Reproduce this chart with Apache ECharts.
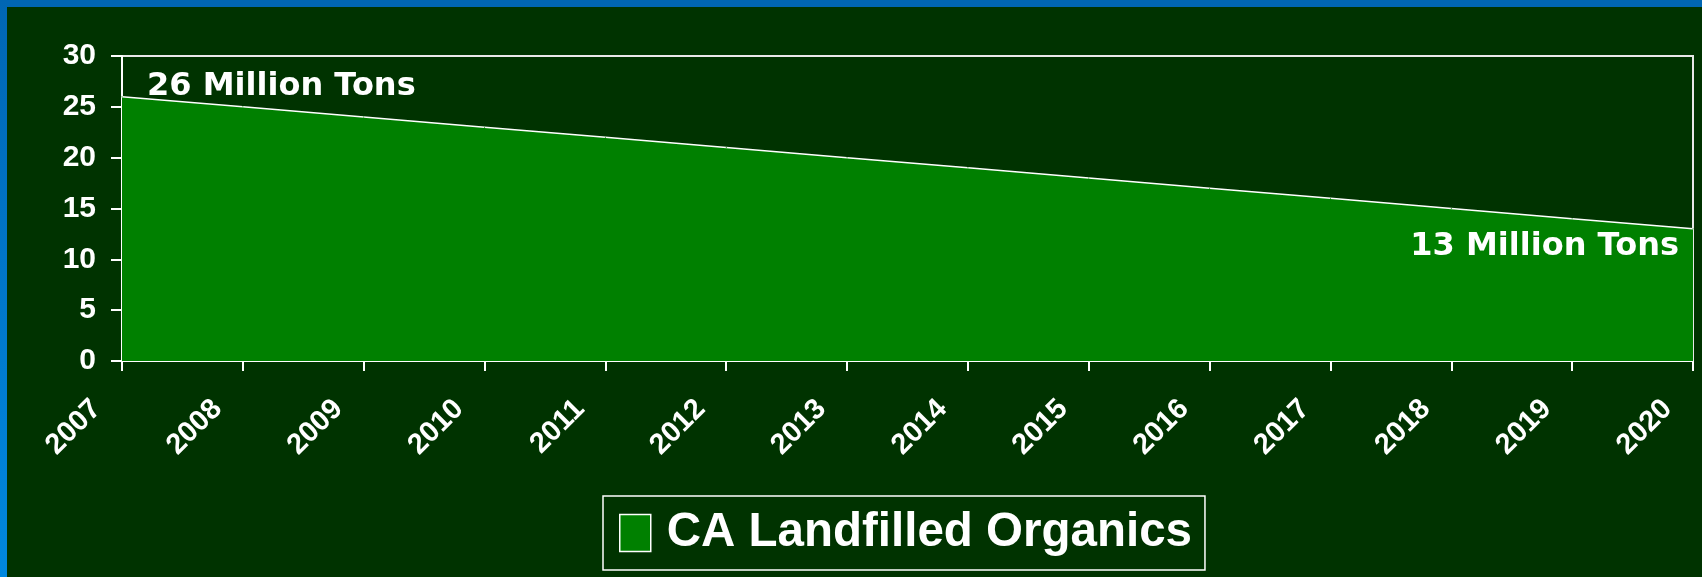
<!DOCTYPE html>
<html>
<head>
<meta charset="utf-8">
<script src="https://cdn.jsdelivr.net/npm/echarts@6/dist/echarts.min.js"></script>
<style>
  html, body { margin: 0; padding: 0; background: #003300; }
  #chart { position: absolute; left: 0; top: 0; width: 1702px; height: 577px; }
  #bandTop { position: absolute; left: 0; top: 0; width: 1702px; height: 7px; background: #0066b3; z-index: 5; }
  #bandLeft { position: absolute; left: 0; top: 0; width: 7px; height: 577px; z-index: 5;
    background: linear-gradient(#0066b3, #0088e0); }
</style>
</head>
<body>
<div id="chart"></div>
<div id="bandTop"></div>
<div id="bandLeft"></div>
<script>
// years on the x axis
var years = ['2007','2008','2009','2010','2011','2012','2013','2014','2015','2016','2017','2018','2019','2020'];
// million tons landfilled
var tons = [26, 25, 24, 23, 22, 21, 20, 19, 18, 17, 16, 15, 14, 13];
var seriesName = 'CA Landfilled Organics';
var startNote = '26 Million Tons';
var endNote = '13 Million Tons';

var chart = echarts.init(document.getElementById('chart'));

var noteFont = {
  color: '#fff',
  fontFamily: 'DejaVu Sans',
  fontWeight: 'bold',
  fontSize: 32
};

var seriesData = tons.map(function (v, i) {
  var item = { value: v };
  if (i === 0) {
    item.label = Object.assign({
      show: true, formatter: startNote,
      position: 'top', distance: 0, align: 'left', verticalAlign: 'bottom',
      offset: [25, 7]
    }, noteFont);
  }
  if (i === tons.length - 1) {
    item.label = Object.assign({
      show: true, formatter: endNote,
      position: 'bottom', distance: 0, align: 'right', verticalAlign: 'top',
      offset: [-14, 1]
    }, noteFont);
  }
  return item;
});

var option = {
  backgroundColor: 'transparent',
  animation: false,
  grid: {
    left: 122, top: 56, right: 9, bottom: 216,
    show: true, borderColor: '#e8e8e8', borderWidth: 2,
    backgroundColor: 'transparent'
  },
  legend: {
    data: [seriesName],
    left: 603, top: 496,
    padding: [13, 13, 13, 16],
    borderColor: '#fff', borderWidth: 1.5,
    icon: 'rect',
    itemWidth: 31, itemHeight: 37,
    itemStyle: { borderColor: '#fff', borderWidth: 1.5 },
    textStyle: {
      color: '#fff', fontFamily: 'Liberation Sans', fontWeight: 'bold', fontSize: 47.5,
      padding: [0, 0, 0, 11]
    }
  },
  xAxis: {
    type: 'category',
    data: years,
    boundaryGap: false,
    axisLine: { lineStyle: { color: '#fff', width: 2 } },
    axisTick: { show: true, length: 10, lineStyle: { color: '#fff', width: 2 } },
    axisLabel: {
      interval: 0, rotate: 45, margin: 18,
      padding: [0, 36, 0, 0],
      color: '#fff', fontFamily: 'Liberation Sans', fontWeight: 'bold', fontSize: 29
    },
    splitLine: { show: false }
  },
  yAxis: {
    type: 'value',
    min: 0, max: 30, interval: 5,
    axisLine: { show: true, lineStyle: { color: '#fff', width: 2 } },
    axisTick: { show: true, length: 11, lineStyle: { color: '#fff', width: 2 } },
    axisLabel: {
      margin: 26,
      color: '#fff', fontFamily: 'Liberation Sans', fontWeight: 'bold', fontSize: 30
    },
    splitLine: { show: false }
  },
  series: [{
    name: seriesName,
    type: 'line',
    data: seriesData,
    symbol: 'circle',
    symbolSize: 1,
    itemStyle: { color: '#008000' },
    lineStyle: { color: '#fff', width: 1.5 },
    areaStyle: { color: '#008000', opacity: 1 },
    label: { show: false },
    z: 1
  }]
};

chart.setOption(option);
</script>
</body>
</html>
